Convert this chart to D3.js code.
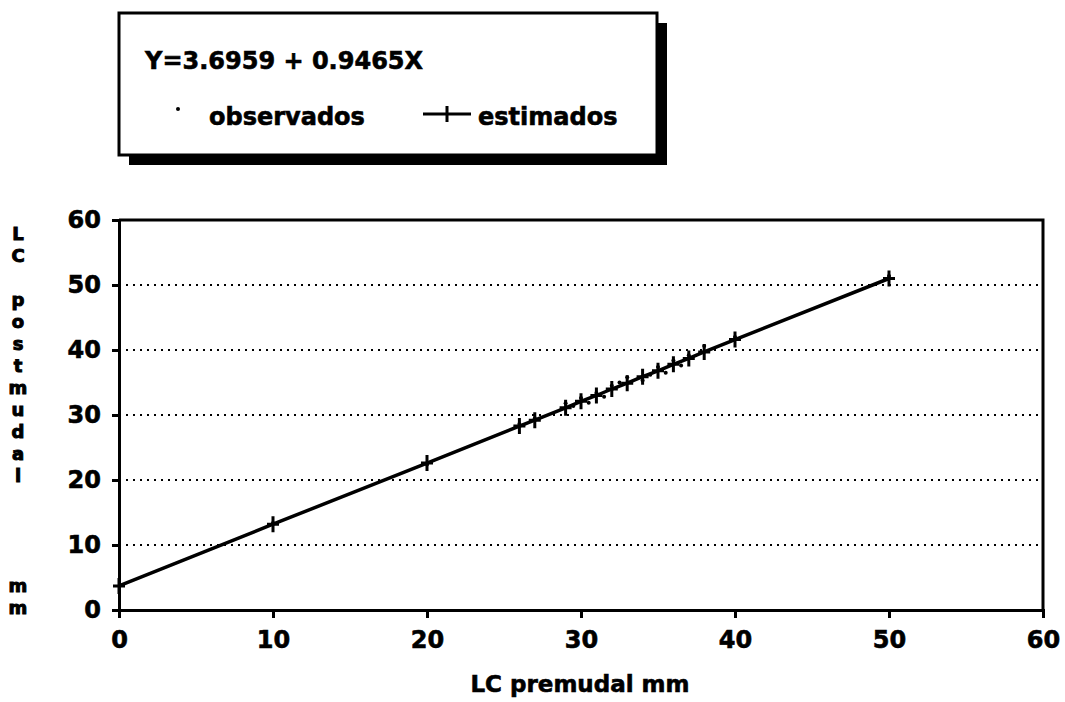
<!DOCTYPE html>
<html>
<head>
<meta charset="utf-8">
<script src="https://cdn.jsdelivr.net/npm/d3@7"></script>
<style>
    body { margin: 0; background: #fff; }
    text { font-family: "DejaVu Sans", sans-serif; font-weight: bold; fill: #000; stroke: #000; stroke-width: 0.6px; }
</style>
</head>
<body>
<div id="vizRegression"></div>
<script>
// Data
var equation = "Y=3.6959 + 0.9465X";
var xTicks = [0, 10, 20, 30, 40, 50, 60];
var yTicks = [0, 10, 20, 30, 40, 50, 60];
var gridTicks = [10, 20, 30, 40, 50];

// estimated (line + cross)
var estX = [0, 10, 20, 26, 27, 29, 30, 31, 32, 33, 34, 35, 36, 37, 38, 40, 50];
var estY = [3.7, 13.2, 22.6, 28.3, 29.2, 31.1, 32.1, 33.0, 34.0, 34.9, 35.9, 36.8, 37.8, 38.7, 39.7, 41.6, 51.0];

// observed (small dots)
var obsX = [10, 20, 26, 27, 29, 29.5, 30, 30.5, 31, 31.5, 32, 32.5, 33, 34, 34.5, 35, 35.5, 36, 36.5, 37, 38, 40, 50];
var obsY = [13.4, 22.4, 28.6, 29.5, 31.8, 31.4, 32.6, 31.9, 33.4, 32.8, 34.5, 35.0, 35.8, 35.3, 36.2, 37.4, 36.5, 38.4, 37.6, 39.2, 40.6, 42.0, 51.4];

var yTitle = ["L", "C", "", "p", "o", "s", "t", "m", "u", "d", "a", "l", "", "", "", "", "m", "m"];
var xTitle = "LC premudal mm";

// SVG margins
var margin = {top: 220, right: 22, bottom: 92, left: 119};
var width = 1065 - margin.left - margin.right,
    height = 702 - margin.top - margin.bottom;

var svg = d3.select("#vizRegression").append("svg")
    .attr("width", 1065)
    .attr("height", 702);

var g = svg.append("g")
    .attr("transform", "translate(" + margin.left + "," + margin.top + ")");

// Scales
var x = d3.scaleLinear().domain([0, 60]).range([0, width]);
var y = d3.scaleLinear().domain([0, 60]).range([height, 0]);

// Dotted gridlines
g.selectAll("line.grid")
    .data(gridTicks)
    .enter().append("line")
    .attr("class", "grid")
    .attr("x1", 0)
    .attr("x2", width)
    .attr("y1", function(d) { return y(d); })
    .attr("y2", function(d) { return y(d); })
    .attr("stroke", "#000")
    .attr("stroke-width", 2)
    .attr("stroke-dasharray", "2,5");

// Frame top and right
g.append("path")
    .attr("d", "M0,0H" + width + "V" + height)
    .attr("fill", "none")
    .attr("stroke", "#000")
    .attr("stroke-width", 3);

// Axes
var xAxis = g.append("g")
    .attr("transform", "translate(0," + height + ")")
    .call(d3.axisBottom(x).tickValues(xTicks).tickSize(8).tickPadding(13));

var yAxis = g.append("g")
    .call(d3.axisLeft(y).tickValues(yTicks).tickSize(7).tickPadding(11));

[xAxis, yAxis].forEach(function(a) {
    a.select(".domain").attr("stroke", "#000").attr("stroke-width", 3);
    a.selectAll(".tick line").attr("stroke", "#000").attr("stroke-width", 3);
    a.selectAll(".tick text")
        .attr("font-family", "DejaVu Sans, sans-serif")
        .attr("font-weight", "bold")
        .attr("font-size", 24)
        .attr("fill", "#000");
});
xAxis.selectAll(".tick").filter(function(d) { return d == 60; }).select("line").remove();

// Regression line through the estimated values
var line = d3.line()
    .x(function(d, i) { return x(estX[i]); })
    .y(function(d, i) { return y(estY[i]); });

g.append("path")
    .datum(estY)
    .attr("d", line)
    .attr("fill", "none")
    .attr("stroke", "#000")
    .attr("stroke-width", 3.5);

// Cross markers
g.selectAll("path.cross")
    .data(estY)
    .enter().append("path")
    .attr("class", "cross")
    .attr("transform", function(d, i) { return "translate(" + x(estX[i]) + "," + y(d) + ")"; })
    .attr("d", "M0,-8V8M-6,0H6")
    .attr("stroke", "#000")
    .attr("stroke-width", 3);

// Observed dots
g.selectAll("circle.obs")
    .data(obsY)
    .enter().append("circle")
    .attr("class", "obs")
    .attr("cx", function(d, i) { return x(obsX[i]); })
    .attr("cy", function(d) { return y(d); })
    .attr("r", 2)
    .attr("fill", "#000");

// Axis titles
svg.append("text")
    .attr("x", 580)
    .attr("y", 692)
    .attr("text-anchor", "middle")
    .attr("font-size", 23)
    .text(xTitle);

svg.selectAll("text.ytitle")
    .data(yTitle)
    .enter().append("text")
    .attr("class", "ytitle")
    .attr("x", 18)
    .attr("y", function(d, i) { return 240 + i * 22; })
    .attr("text-anchor", "middle")
    .attr("font-size", 18)
    .style("stroke-width", "1px")
    .text(function(d) { return d; });

// Legend box with shadow
var legend = svg.append("g").attr("transform", "translate(119,13)");

legend.append("rect")
    .attr("x", 10).attr("y", 10)
    .attr("width", 538).attr("height", 142)
    .attr("fill", "#000");

legend.append("rect")
    .attr("x", 0).attr("y", 0)
    .attr("width", 538).attr("height", 142)
    .attr("fill", "#fff")
    .attr("stroke", "#000")
    .attr("stroke-width", 3);

legend.append("text")
    .attr("x", 26).attr("y", 56)
    .attr("font-size", 24)
    .text(equation);

legend.append("circle")
    .attr("cx", 59).attr("cy", 96)
    .attr("r", 2)
    .attr("fill", "#000");

legend.append("text")
    .attr("x", 90).attr("y", 112)
    .attr("font-size", 24)
    .text("observados");

legend.append("path")
    .attr("d", "M304,101H352M328,93V109")
    .attr("stroke", "#000")
    .attr("stroke-width", 3);

legend.append("text")
    .attr("x", 359).attr("y", 112)
    .attr("font-size", 24)
    .text("estimados");
</script>
</body>
</html>
